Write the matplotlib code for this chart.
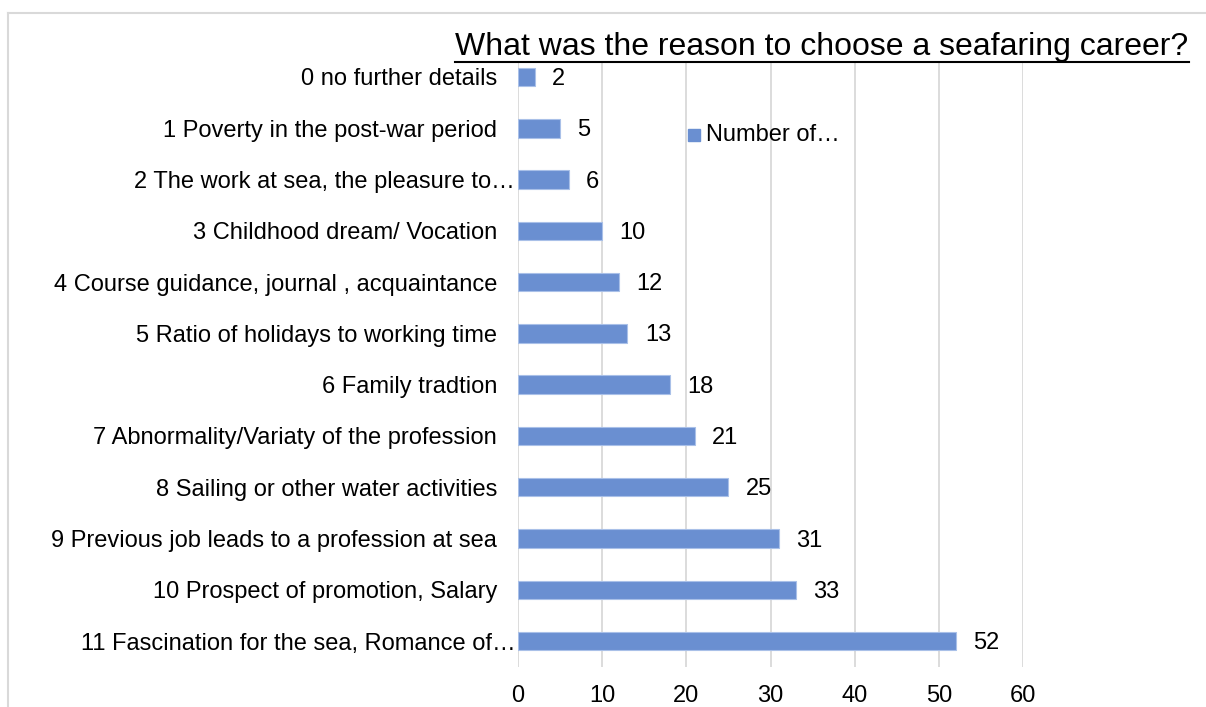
import numpy as np
import matplotlib.pyplot as plt
from matplotlib.lines import Line2D
from matplotlib.transforms import ScaledTranslation

plt.rcParams['font.family'] = ['Liberation Sans', 'DejaVu Sans']

categories = [
    '0 no further details',
    '1 Poverty in the post-war period',
    '2 The work at sea, the pleasure to…',
    '3 Childhood dream/ Vocation',
    '4 Course guidance, journal , acquaintance',
    '5 Ratio of holidays to working time',
    '6 Family tradtion',
    '7 Abnormality/Variaty of the profession',
    '8 Sailing or other water activities',
    '9 Previous job leads to a profession at sea',
    '10 Prospect of promotion, Salary',
    '11 Fascination for the sea, Romance of…',
]
counts = [2, 5, 6, 10, 12, 13, 18, 21, 25, 31, 33, 52]
x_ticks = [0, 10, 20, 30, 40, 50, 60]
bar_color = '#6A8FD1'

W, H = 1206, 707
fig = plt.figure(figsize=(W / 100, H / 100), dpi=100)
# axes box in pixels: left 518, right 1023, top 63, bottom 667
ax = fig.add_axes([518 / W, 1 - 667 / H, (1023 - 518) / W, (667 - 63) / H])

y = np.arange(len(categories))
ax.barh(y, counts, height=0.36, color=bar_color, edgecolor='#A9C0E8', linewidth=0.8)
for yi, v in zip(y, counts):
    ax.annotate(str(v), (v, yi), xytext=(12.5, -1.5), textcoords='offset points',
                ha='left', va='center', fontsize=17, color='black')

ax.set_ylim(11.507, -0.273)
ax.set_xlim(0, 60)
ax.set_xticks(x_ticks)
ax.set_yticks(y)
ax.set_yticklabels(categories, fontsize=17)
ax.tick_params(axis='y', length=0, pad=15)
ax.tick_params(axis='x', length=0, pad=13, labelsize=17)
ax.grid(True, axis='x', color='#D9D9D9', linewidth=1.3)
ax.set_axisbelow(True)
for s in ax.spines.values():
    s.set_visible(False)

# truncated labels sit closer to the axis
for lab in ax.get_yticklabels():
    if lab.get_text().endswith('…'):
        lab.set_transform(lab.get_transform() + ScaledTranslation(0.18, 0, fig.dpi_scale_trans))

# title with underline
title = fig.text(0.6816, 1 - 47 / H, 'What was the reason to choose a seafaring career?',
                 ha='center', va='center', fontsize=23)
fig.canvas.draw()
bb = title.get_window_extent().transformed(fig.transFigure.inverted())
fig.add_artist(Line2D([bb.x0, bb.x1], [1 - 62 / H, 1 - 62 / H],
                      transform=fig.transFigure, color='black', linewidth=1.5))

# legend
fig.patches.append(plt.Rectangle((688 / W, 1 - 141 / H), 12 / W, 12 / H, transform=fig.transFigure,
                                 color=bar_color, figure=fig))
fig.text(706 / W, 1 - 135 / H, 'Number of…', ha='left', va='center', fontsize=17)

# outer chart frame (cropped)
fig.add_artist(Line2D([8 / W, 1.0], [1 - 13 / H, 1 - 13 / H], transform=fig.transFigure,
                      color='#D9D9D9', linewidth=1.5))
fig.add_artist(Line2D([8 / W, 8 / W], [0.0, 1 - 13 / H], transform=fig.transFigure,
                      color='#D9D9D9', linewidth=1.5))

fig.savefig('out.png', dpi=100)
